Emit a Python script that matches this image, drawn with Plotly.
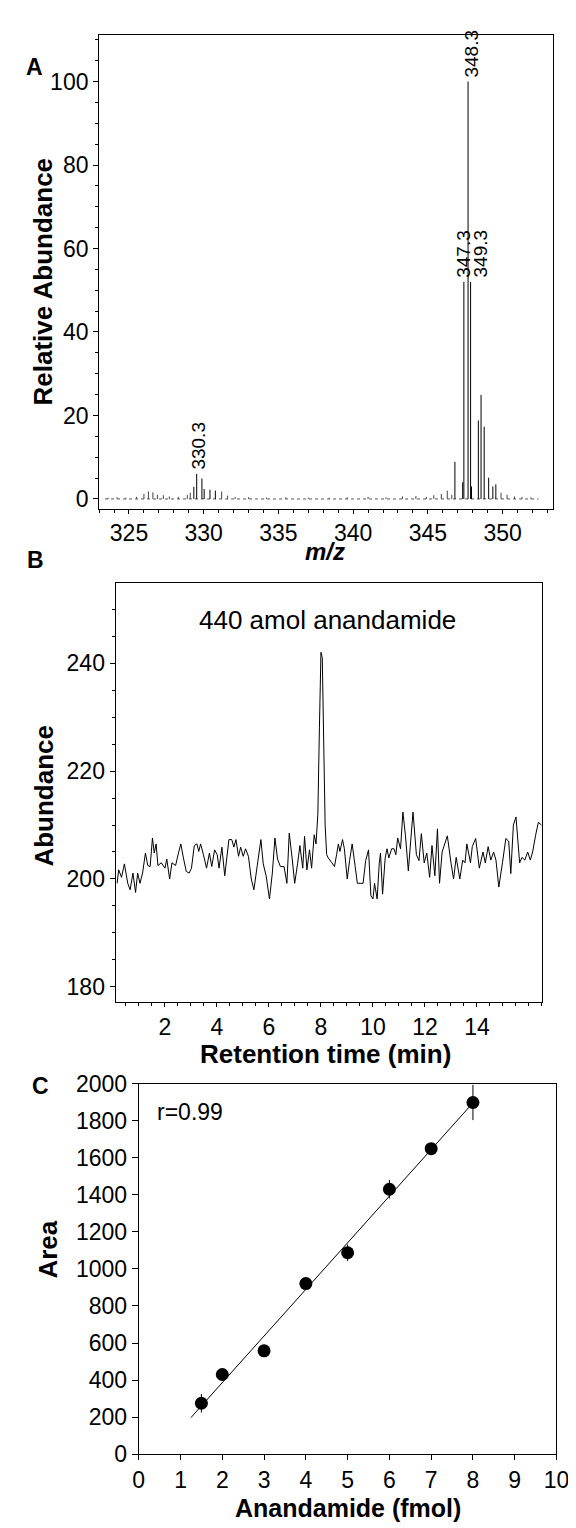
import numpy as np
import plotly.graph_objects as go

W, H = 576, 1528
FONT = 'Liberation Sans, Arial, Helvetica, sans-serif'

# ---------------- A: mass spectrum ----------------
peak_mz = [329.34, 329.53, 329.88, 330.03, 330.42, 330.78,
           346.81, 347.33, 347.41, 347.69, 347.86, 347.92,
           348.38, 348.56, 348.77, 349.07, 349.35, 349.55]
peak_ab = [2.9, 6.0, 4.9, 2.4, 2.2, 2.0,
           8.9, 4.0, 52.0, 100.0, 52.0, 3.0,
           18.8, 24.9, 17.3, 5.1, 3.0, 3.5]
noise_mz = [323.6, 324.2, 324.8, 325.5, 326.0, 326.3, 326.6, 326.9, 327.3, 327.7,
            328.3, 328.9, 329.1, 331.2, 331.6, 332.1, 333.0, 334.2, 335.5, 337.0,
            338.4, 339.6, 341.0, 342.2, 343.3, 344.2, 344.9, 345.4, 345.9, 346.3,
            346.6, 349.9, 350.3, 350.8, 351.3, 351.9]
noise_ab = [0.3, 0.4, 0.3, 0.5, 1.2, 1.8, 1.6, 1.0, 0.9, 0.6,
            0.5, 1.0, 1.5, 1.8, 0.8, 0.5, 0.4, 0.3, 0.4, 0.3,
            0.3, 0.4, 0.5, 0.4, 0.6, 0.7, 0.5, 0.9, 1.2, 2.0,
            1.0, 1.5, 1.0, 0.6, 0.5, 0.4]
label_text = ['330.3', '347.3', '348.3', '349.3']
label_mz = [329.53, 347.41, 347.69, 347.86]
label_ab = [6.0, 52.0, 100.0, 52.0]
label_dx = [2, 0, 3, 10]

# ---------------- B: chromatogram ----------------
rt_min = [0.16, 0.22, 0.33, 0.44, 0.57, 0.66, 0.77, 0.87, 0.95, 1.04,
          1.14, 1.25, 1.34, 1.43, 1.52, 1.59, 1.66, 1.73, 1.86, 2.00,
          2.07, 2.18, 2.27, 2.41, 2.52, 2.61, 2.71, 2.82, 2.93, 3.02,
          3.13, 3.23, 3.30, 3.37, 3.48, 3.60, 3.71, 3.80, 3.91, 4.01,
          4.08, 4.19, 4.30, 4.40, 4.46, 4.57, 4.65, 4.73, 4.83, 4.91,
          5.01, 5.10, 5.21, 5.32, 5.42, 5.55, 5.69, 5.78, 5.89, 6.02,
          6.13, 6.23, 6.33, 6.44, 6.58, 6.69, 6.78, 6.89, 6.99, 7.10,
          7.19, 7.30, 7.37, 7.46, 7.56, 7.64, 7.74, 7.81, 7.88, 7.94,
          8.00, 8.05, 8.10, 8.16, 8.22, 8.28, 8.42, 8.52, 8.60, 8.67,
          8.73, 8.83, 8.90, 9.01, 9.10, 9.20, 9.31, 9.40, 9.51, 9.62,
          9.72, 9.83, 9.92, 10.00, 10.06, 10.16, 10.24, 10.29, 10.37, 10.47,
          10.54, 10.61, 10.72, 10.81, 10.88, 10.95, 11.06, 11.15, 11.25, 11.36,
          11.45, 11.54, 11.67, 11.77, 11.86, 11.97, 12.07, 12.18, 12.27, 12.38,
          12.48, 12.56, 12.66, 12.86, 13.00, 13.10, 13.20, 13.34, 13.45, 13.54,
          13.61, 13.75, 13.82, 13.95, 14.09, 14.23, 14.32, 14.43, 14.53, 14.64,
          14.73, 14.84, 14.98, 15.11, 15.22, 15.30, 15.40, 15.50, 15.64, 15.73,
          15.84, 15.95, 16.05, 16.14, 16.25, 16.36, 16.48]
rt_abund = [199.2, 201.7, 200.3, 202.8, 199.2, 198.0, 201.1, 197.5, 201.1, 199.2,
            201.1, 204.8, 202.5, 202.3, 207.6, 204.8, 206.5, 202.5, 203.0, 202.0,
            203.7, 200.0, 203.0, 202.5, 204.8, 206.5, 203.9, 201.4, 201.1, 202.0,
            206.2, 206.5, 205.1, 206.5, 204.5, 202.0, 204.8, 202.3, 205.4, 204.5,
            202.0, 205.9, 200.6, 205.1, 207.3, 207.3, 205.9, 207.3, 204.2, 205.9,
            204.2, 205.6, 204.2, 200.0, 198.0, 202.5, 207.3, 202.8, 200.6, 196.3,
            201.1, 207.6, 203.7, 202.3, 202.3, 199.2, 208.5, 203.9, 199.2, 202.8,
            206.2, 202.0, 207.9, 201.7, 205.4, 202.0, 208.2, 206.5, 212.0, 228.0,
            242.0, 241.0, 226.0, 210.0, 204.5, 203.9, 203.0, 202.3, 204.5, 206.5,
            205.1, 207.3, 205.6, 200.0, 203.4, 206.5, 202.5, 199.2, 199.2, 199.2,
            203.4, 205.4, 196.9, 196.3, 199.2, 196.3, 202.8, 204.8, 197.2, 203.9,
            205.6, 203.9, 205.6, 205.6, 204.5, 207.6, 205.6, 212.4, 208.0, 201.5,
            207.0, 212.4, 204.5, 203.4, 208.4, 203.0, 204.8, 200.3, 206.2, 200.6,
            209.3, 199.2, 205.0, 208.0, 203.0, 200.0, 204.0, 200.0, 203.5, 203.0,
            206.5, 203.0, 206.0, 207.5, 202.0, 205.0, 203.0, 206.0, 203.5, 205.0,
            203.5, 198.5, 203.0, 207.5, 207.0, 201.0, 210.0, 211.5, 203.0, 204.0,
            203.5, 205.0, 203.5, 205.0, 208.0, 210.5, 210.0]

# ---------------- C: calibration ----------------
amount_fmol = [1.5, 2, 3, 4, 5, 6, 7, 8]
area = [275, 430, 558, 921, 1087, 1430, 1649, 1898]
area_err = [50, 20, 20, 30, 45, 50, 25, 95]
fit_from, fit_to = 1.25, 8.0


def sticks(xs, ys):
    sx, sy = [], []
    for x, y in zip(xs, ys):
        sx += [x, x, None]
        sy += [0, y, None]
    return sx, sy


fig = go.Figure()

sx, sy = sticks(noise_mz, noise_ab)
fig.add_trace(go.Scatter(x=sx, y=sy, mode='lines', line=dict(color='#444', width=1),
                         xaxis='x', yaxis='y', hoverinfo='skip'))
fig.add_trace(go.Scatter(x=[323.4, 352.4], y=[0, 0], mode='lines',
                         line=dict(color='#555', width=1, dash='dot'),
                         xaxis='x', yaxis='y', hoverinfo='skip'))
sx, sy = sticks(peak_mz, peak_ab)
fig.add_trace(go.Scatter(x=sx, y=sy, mode='lines', line=dict(color='black', width=1),
                         xaxis='x', yaxis='y'))

fig.add_trace(go.Scatter(x=rt_min, y=rt_abund, mode='lines',
                         line=dict(color='black', width=1), xaxis='x2', yaxis='y2'))

slope, icpt = np.polyfit(amount_fmol, area, 1)
fig.add_trace(go.Scatter(x=[fit_from, fit_to], y=[slope * fit_from + icpt, slope * fit_to + icpt],
                         mode='lines', line=dict(color='black', width=1),
                         xaxis='x3', yaxis='y3'))
fig.add_trace(go.Scatter(x=amount_fmol, y=area, mode='markers',
                         marker=dict(color='black', size=13),
                         error_y=dict(type='data', array=area_err, color='black',
                                      thickness=1, width=0),
                         xaxis='x3', yaxis='y3'))

axis_style = dict(showline=True, linecolor='black', linewidth=1, mirror=True,
                  ticks='outside', ticklen=5, tickcolor='black', showgrid=False,
                  zeroline=False, tickfont=dict(family=FONT, size=23, color='black'))


def px(x):
    return x / W


def py(y):
    return 1 - y / H


fig.update_layout(
    width=W, height=H, margin=dict(l=0, r=0, t=0, b=0),
    plot_bgcolor='white', paper_bgcolor='white', showlegend=False,
    xaxis=dict(axis_style, domain=[px(88), px(557)], anchor='y', range=[323.0, 353.35],
               tick0=325, dtick=5, ticklen=4,
               minor=dict(ticks='outside', dtick=1, ticklen=3, tickcolor='black')),
    yaxis=dict(axis_style, domain=[py(496), py(14)], anchor='x', range=[-2.3, 111.2],
               tick0=0, dtick=20, minor=dict(ticks='outside', dtick=5, ticklen=3, tickcolor='black')),
    xaxis2=dict(axis_style, domain=[px(105), px(546)], anchor='y2', range=[0.1, 16.5],
                tickvals=[2, 4, 6, 8, 10, 12, 14], ticklen=4,
                minor=dict(ticks='outside', dtick=0.5, ticklen=3, tickcolor='black')),
    yaxis2=dict(axis_style, domain=[py(998), py(572)], anchor='x2', range=[177.2, 254.8],
                tickvals=[180, 200, 220, 240],
                minor=dict(ticks='outside', dtick=5, ticklen=3, tickcolor='black')),
    xaxis3=dict(axis_style, domain=[px(129), px(561)], anchor='y3', range=[0, 10],
                dtick=1, ticklen=5),
    yaxis3=dict(axis_style, domain=[py(1458), py(1081)], anchor='x3', range=[0, 2000],
                dtick=200, ticklen=6),
)

ann = []
for t, x, y, dx in zip(label_text, label_mz, label_ab, label_dx):
    ann.append(dict(x=x, y=y, xref='x', yref='y', text=t, showarrow=False, textangle=-90,
                    xanchor='center', yanchor='bottom', xshift=dx, yshift=2,
                    font=dict(family=FONT, size=19, color='black')))


def label(text, x, y, size, angle=0, xanchor='center'):
    ann.append(dict(x=px(x), y=py(y), xref='paper', yref='paper', text=text, showarrow=False,
                    textangle=angle, xanchor=xanchor, yanchor='middle',
                    font=dict(family=FONT, size=size, color='black')))


label('<b>A</b>', 21, 47, 23)
label('<b>B</b>', 22, 548, 23)
label('<b>C</b>', 27, 1083, 23)
label('<b>Relative Abundance</b>', 31, 265, 26, -90)
label('<b><i>m/z</i></b>', 322, 540, 24)
label('<b>Abundance</b>', 31, 788, 26, -90)
label('440 amol anandamide', 324, 609, 26)
label('<b>Retention time (min)</b>', 322, 1051, 26)
label('<b>Area</b>', 35, 1250, 26, -90)
label('r=0.99', 146, 1110, 23, xanchor='left')
label('<b>Anandamide (fmol)</b>', 345, 1513, 25)

fig.update_layout(annotations=ann)
fig.write_html('out.html')
